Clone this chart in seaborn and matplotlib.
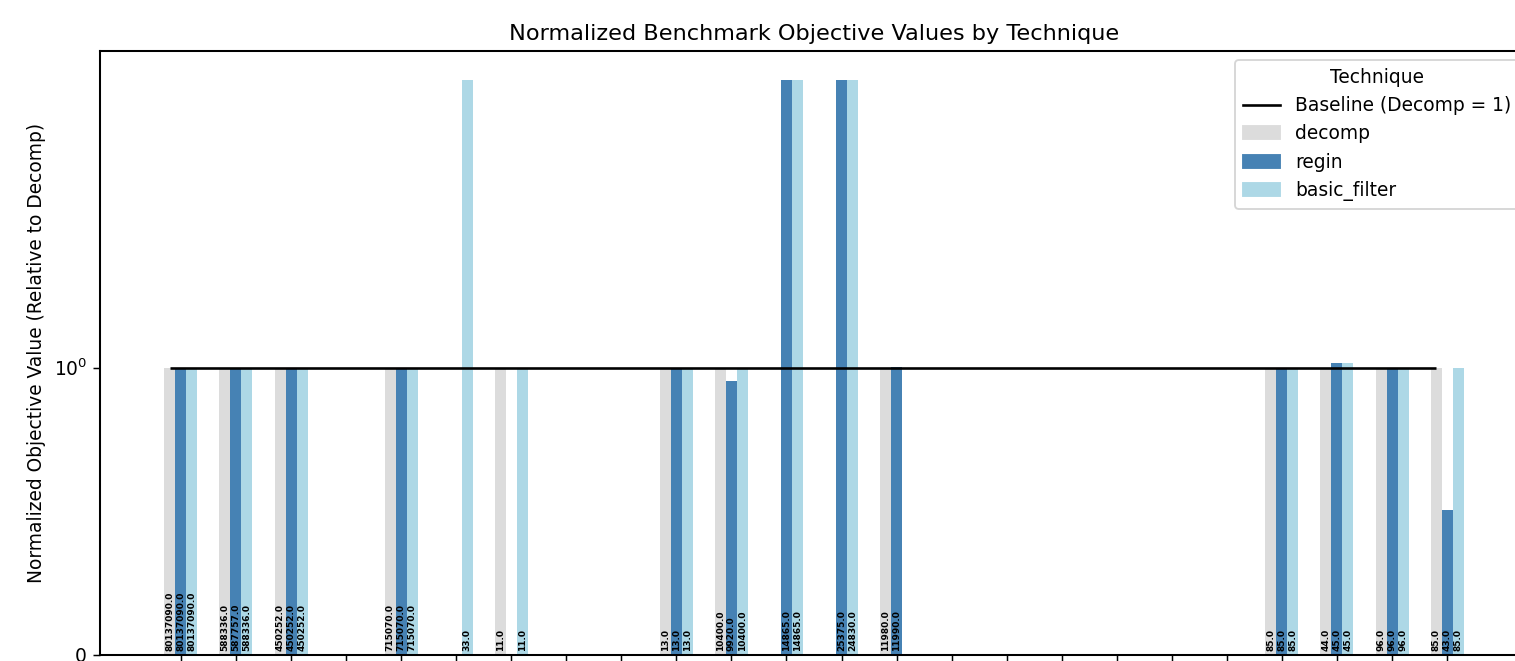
import numpy as np
import pandas as pd
import matplotlib
matplotlib.use("Agg")
import matplotlib.pyplot as plt
import seaborn as sns
from matplotlib.lines import Line2D
from matplotlib.patches import Patch

# ---- data (raw objective values per benchmark; None = missing) ----
benchmarks = [f"bench_{i:02d}" for i in range(24)]
decomp_vals = [80137090.0, 588336.0, 450252.0, None, 715070.0, None, 11.0, None, None,
               13.0, 10400.0, None, None, 11980.0, None, None, None, None, None, None,
               85.0, 44.0, 96.0, 85.0]
regin_vals = [80137090.0, 587757.0, 450252.0, None, 715070.0, None, None, None, None,
              13.0, 9920.0, 14865.0, 25375.0, 11990.0, None, None, None, None, None, None,
              85.0, 45.0, 96.0, 43.0]
basic_vals = [80137090.0, 588336.0, 450252.0, None, 715070.0, 33.0, 11.0, None, None,
              13.0, 10400.0, 14865.0, 24830.0, None, None, None, None, None, None, None,
              85.0, 45.0, 96.0, 85.0]
techniques = ["decomp", "regin", "basic_filter"]
colors = {"decomp": "#dcdcdc", "regin": "#4682b4", "basic_filter": "#add8e6"}
# normalized height shown when no decomp value exists
missing_decomp_height = 3.6

raw = {"decomp": decomp_vals, "regin": regin_vals, "basic_filter": basic_vals}
rows = []
for i, b in enumerate(benchmarks):
    d = decomp_vals[i]
    for t in techniques:
        v = raw[t][i]
        if v is None:
            continue
        norm = v / d if d is not None else missing_decomp_height
        rows.append({"benchmark": b, "technique": t, "value": v, "normalized": norm})
df = pd.DataFrame(rows)

DPI = 134.5
W, H = 1515, 661
fig = plt.figure(figsize=(W / DPI, H / DPI), dpi=DPI)
ax = fig.add_axes([100 / W, (H - 655) / H, (1528 - 100) / W, (655 - 51) / H])
ax.set_yscale("symlog", linthresh=1, linscale=0.5)

sns.barplot(data=df, x="benchmark", y="normalized", hue="technique",
            order=benchmarks, hue_order=techniques, palette=colors,
            width=0.6, saturation=1, ax=ax, legend=False, errorbar=None)

# value labels at bar bottoms
for t_idx, t in enumerate(techniques):
    for i, b in enumerate(benchmarks):
        v = raw[t][i]
        if v is None:
            continue
        x = i + (t_idx - 1) * 0.2
        ax.text(x, 0.015, f"{v:.1f}", rotation=90, ha="center", va="bottom",
                fontsize=4.8, fontweight="bold")

ax.hlines(1, -0.2, len(benchmarks) - 1.2, color="black", linewidth=1.4)
ax.set_xlim(-1.47, len(benchmarks) + 0.47)
ax.set_xticks(range(len(benchmarks)))
ax.set_xticklabels([])
ax.set_xlabel("")
ax.set_ylabel("Normalized Objective Value (Relative to Decomp)")
ax.set_title("Normalized Benchmark Objective Values by Technique")
for s in ax.spines.values():
    s.set_linewidth(1.1)

handles = [Line2D([0], [0], color="black", linewidth=1.4, label="Baseline (Decomp = 1)")]
handles += [Patch(color=colors[t], label=t) for t in techniques]
ax.legend(handles=handles, title="Technique", loc="upper right")

fig.savefig("out.png", dpi=DPI)
